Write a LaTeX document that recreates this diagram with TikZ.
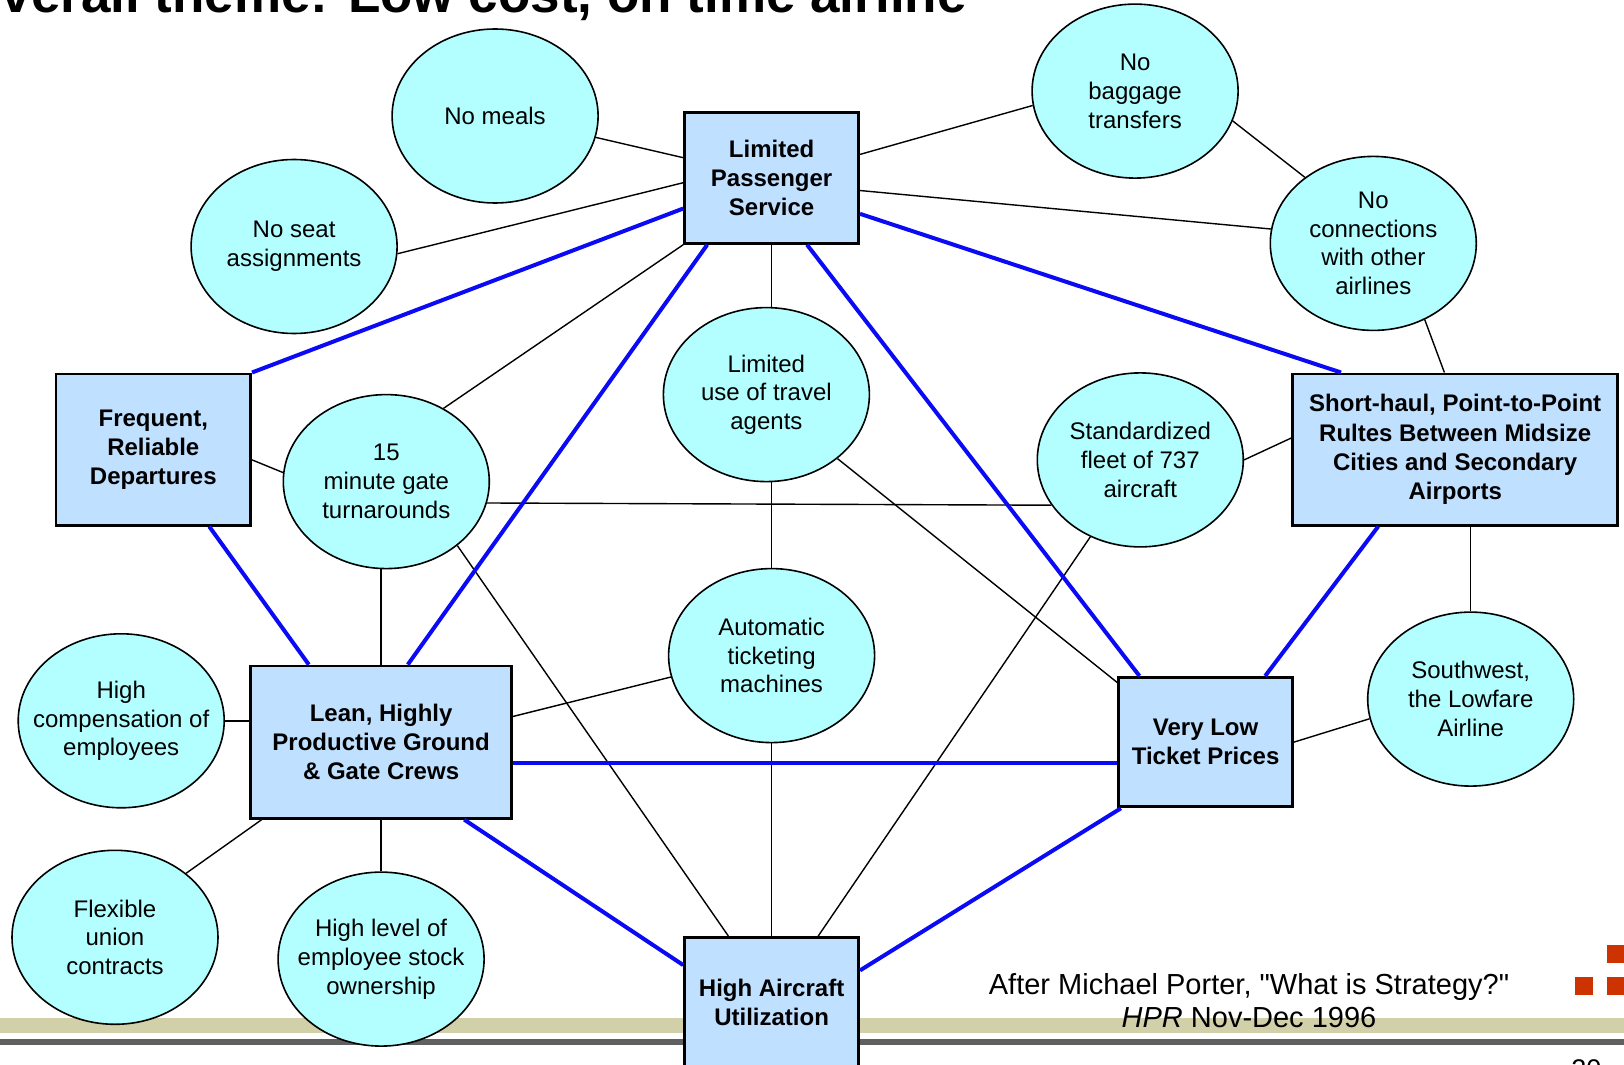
\documentclass[tikz,border=0pt]{standalone}
\usepackage{fontspec}
\setmainfont{Liberation Sans}
\newfontfamily\citefont{Liberation Sans}
\usetikzlibrary{shapes.geometric}
\definecolor{ellfill}{RGB}{179,255,255}
\definecolor{boxfill}{RGB}{192,224,255}
\definecolor{linkblue}{RGB}{10,10,245}
\definecolor{bandtan}{RGB}{210,208,168}
\definecolor{bandgray}{RGB}{96,96,96}
\definecolor{markred}{RGB}{204,51,0}

\begin{document}
\begin{tikzpicture}[x=0.5pt,y=-0.5pt,
  idea/.style={ellipse, draw, line width=0.8pt, fill=ellfill,
    minimum width=103pt, minimum height=87pt, inner sep=0pt,
    label={[ideatext]center:#1}},
  ideatext/.style={align=center, inner sep=0pt,
    font=\fontsize{12pt}{14.4pt}\selectfont},
  activity/.style={rectangle, draw, line width=1.4pt, fill=boxfill,
    inner sep=0pt, align=center, font=\bfseries\fontsize{12pt}{14.6pt}\selectfont},
  tie/.style={line width=0.7pt},
  core/.style={line width=2pt, draw=linkblue}]

\useasboundingbox (0,0) rectangle (1624,1065);
\clip (0,0) rectangle (1624,1065);

% footer bands
\fill[bandtan]  (0,1018) rectangle (1624,1033);
\fill[bandgray] (0,1039) rectangle (1624,1045);

% title
\node[anchor=base west, inner sep=0pt,
  font=\bfseries\fontsize{26.5pt}{30pt}\selectfont] (title) at (-40,12.5)
  {Overall theme: Low cost, on time airline};

% activities (ellipses)
\node[idea={No meals}] (NM) at (495.1,116.0) {};
\node[idea={No seat\\assignments}] (NS) at (294.1,246.5) {};
\node[idea={No\\baggage\\transfers}] (NB) at (1135.1,91.1) {};
\node[idea={No\\connections\\with other\\airlines}] (NC) at (1373.3,243.4) {};
\node[idea={Limited\\use of travel\\agents}] (LT) at (766.4,394.6) {};
\node[idea={15\\minute gate\\turnarounds}] (GT) at (386.3,481.6) {};
\node[idea={Standardized\\fleet of 737\\aircraft}] (SF) at (1140.3,459.9) {};
\node[idea={Automatic\\ticketing\\machines}] (AT) at (771.6,655.6) {};
\node[idea={High\\compensation of\\employees}] (HC) at (121.2,720.8) {};
\node[idea={Southwest,\\the Lowfare\\Airline}] (SW) at (1470.7,699.1) {};
\node[idea={Flexible\\union\\contracts}] (FU) at (115.0,937.3) {};
\node[idea={High level of\\employee stock\\ownership}] (HL) at (381.1,959.1) {};

% strategic themes (boxes)
\node[activity, minimum width=87pt, minimum height=65.25pt] (A) at (771.6,178.1)
  {Limited\\Passenger\\Service};
\node[activity, minimum width=97.35pt, minimum height=75.6pt] (B) at (153.3,449.5)
  {Frequent,\\Reliable\\Departures};
\node[activity, minimum width=162.6pt, minimum height=75.6pt] (C) at (1455.2,449.5)
  {Short-haul, Point-to-Point\\Rultes Between Midsize\\Cities and Secondary\\Airports};
\node[activity, minimum width=130.5pt, minimum height=76.1pt] (D) at (381.1,742.1)
  {Lean, Highly\\Productive Ground\\\& Gate Crews};
\node[activity, minimum width=87pt, minimum height=64.75pt] (E) at (1205.6,742.1)
  {Very Low\\Ticket Prices};
\node[activity, minimum width=87pt, minimum height=65.25pt] (F) at (771.6,1002.6)
  {High Aircraft\\Utilization};

% thin links
\draw[tie] (NM.-12) -- (A.167);
\draw[tie] (NS.-4.6) -- (A.183);
\draw[tie] (A.15.3) -- (NB.188);
\draw[tie] (NB.-17) -- (NC.136);
\draw[tie] (A.-8.1) -- (NC.172);
\draw[tie] (NC.-56.3) -- (C.98.6);
\draw[tie] (A.south) -- (A.south |- LT.north);
\draw[tie] (A.south west) -- (GT.52.7);
\draw[tie] (B.-6) -- (GT.175);
\draw[tie] (GT.-12.2) -- (SF.207.4);
\draw[tie] (SF.0) -- (C.176.4);
\draw[tie] (LT.-42.4) -- (E.146.5);
\draw[tie] (A.south |- LT.south) -- (AT.north);
\draw[tie] (D.north |- GT.south) -- (D.north);
\draw[tie] (GT.-42.4) -- (F.123.7);
\draw[tie] (SF.237.6) -- (F.55.7);
\draw[tie] (AT.192.8) -- (D.11.4);
\draw[tie] (AT.south) -- (F.north);
\draw[tie] (HC.east) -- (HC.east -| D.west);
\draw[tie] (D.213.3) -- (FU.42.8);
\draw[tie] (D.south) -- (HL.north);
\draw[tie] (SW.north |- C.south) -- (SW.north);
\draw[tie] (E.east) -- (SW.191.7);

% core links
\draw[core] (A.199.7) -- (B.north east);
\draw[core] (A.226.9) -- (D.71.2);
\draw[core] (A.-62.4) -- (E.135.7);
\draw[core] (A.-22) -- (C.146.4);
\draw[core] (B.-54.5) -- (D.133.2);
\draw[core] (C.225.8) -- (E.48.1);
\draw[core] (D.-9.7) -- (D.-9.7 -| E.west);
\draw[core] (D.-43.3) -- (F.157.4);
\draw[core] (E.218) -- (F.20.3);

% source note
\node[align=center, inner sep=0pt, font=\citefont\fontsize{14.5pt}{16.5pt}\selectfont]
  (cite) at (1249,1001)
  {After Michael Porter, "What is Strategy?"\\\textit{HPR} Nov-Dec 1996};

% corner marks
\fill[markred] (1607,945) rectangle (1625,963);
\fill[markred] (1575,977) rectangle (1593,995);
\fill[markred] (1607,977) rectangle (1625,995);

% page number
\node[anchor=north west, inner sep=0pt, font=\fontsize{13.5pt}{14pt}\selectfont]
  (pg) at (1571,1059) {20};
\end{tikzpicture}
\end{document}
